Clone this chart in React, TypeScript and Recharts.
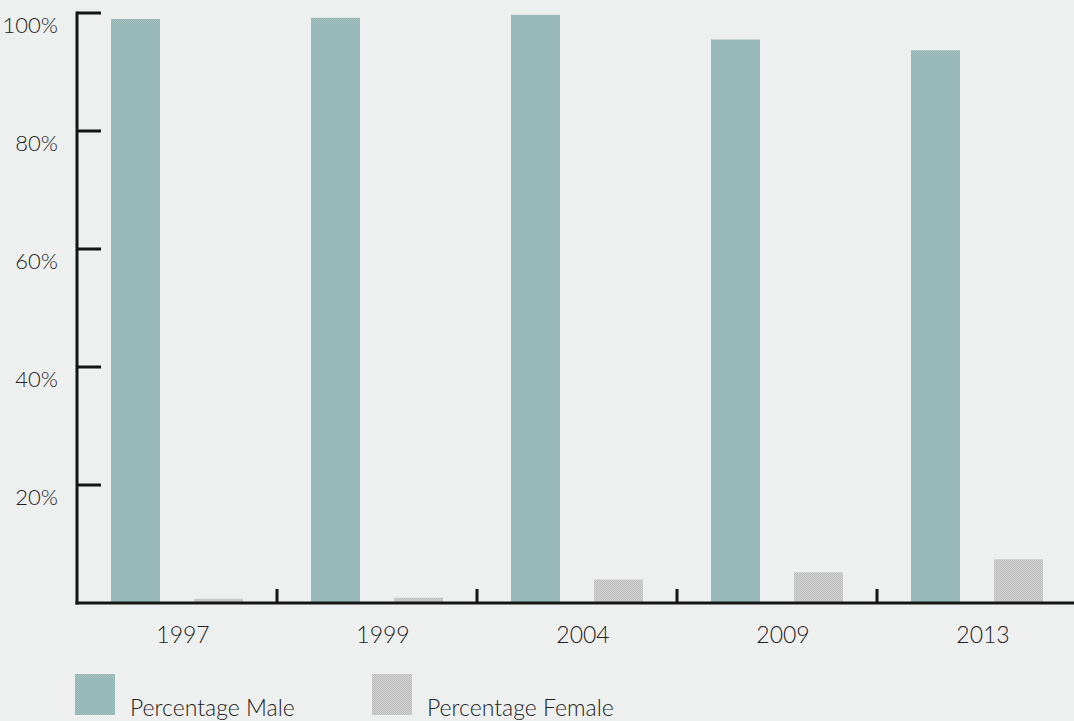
import { BarChart, Bar, XAxis, YAxis, Legend } from 'recharts';

// chart values
const years = ['1997', '1999', '2004', '2009', '2013'];
const maleShare = [99.0, 99.2, 99.7, 95.5, 93.7];
const femaleShare = [0.7, 0.9, 4.0, 5.2, 7.4];
const yTicks = [20, 40, 60, 80, 100];
const seriesNames = ['Percentage Male', 'Percentage Female'];

const data = years.map((year, i) => ({ year, male: maleShare[i], female: femaleShare[i] }));

const AXIS_X = 77;
const BASE_Y = 603;
const INK = '#151515';
const PAPER = '#eef0ef';
const FONT = 'Lato, "Open Sans", sans-serif';

const YTick = (props: any) => {
  const { y, payload } = props;
  return (
    <g>
      <line x1={AXIS_X} x2={AXIS_X + 24} y1={y} y2={y} stroke={INK} strokeWidth={3} />
      <text
        x={58}
        y={y + 11}
        textAnchor="end"
        dominantBaseline="central"
        fill="#222"
        style={{ fontFamily: FONT, fontWeight: 300, fontSize: 22 }}
      >
        {payload.value}%
      </text>
    </g>
  );
};

const XTick = (props: any) => {
  const { x, payload } = props;
  const half = payload.offset || 100;
  return (
    <g>
      <line x1={x + half} x2={x + half} y1={BASE_Y} y2={BASE_Y - 14} stroke={INK} strokeWidth={3} />
      <text
        x={x + 6}
        y={BASE_Y + 31}
        textAnchor="middle"
        dominantBaseline="central"
        fill="#222"
        style={{ fontFamily: FONT, fontWeight: 300, fontSize: 23 }}
      >
        {payload.value}
      </text>
    </g>
  );
};

const LegendBox = (props: any) => {
  // keep the series order (recharts sorts legend items by name otherwise)
  const items = [...(props.payload || [])].sort(
    (a: any, b: any) => seriesNames.indexOf(a.value) - seriesNames.indexOf(b.value)
  );
  return (
    <div style={{ position: 'relative', width: 1074, height: 61 }}>
      {items.map((entry: any, i: number) => (
        <div key={entry.value}>
          <svg
            width={40}
            height={41}
            style={{ position: 'absolute', left: 75 + i * 297, top: 14 }}
          >
            <rect width={40} height={41} fill={entry.color} />
          </svg>
          <span
            style={{
              position: 'absolute',
              left: 130 + i * 297,
              top: 36,
              fontFamily: FONT,
              fontWeight: 300,
              fontSize: 23,
              lineHeight: '23px',
              color: '#222',
              whiteSpace: 'nowrap',
            }}
          >
            {entry.value}
          </span>
        </div>
      ))}
    </div>
  );
};

const App = () => {
  return (
    <div
      style={{
        width: 1074,
        height: 721,
        overflow: 'hidden',
        position: 'relative',
        background: PAPER,
      }}
    >
      <style>{`html, body { margin: 0; padding: 0; background: ${PAPER}; overflow: hidden; }`}</style>
      <BarChart
        width={1080}
        height={721}
        data={data}
        margin={{ top: 13, right: 3, bottom: 88, left: 0 }}
        barCategoryGap={34}
        barGap={34}
      >
        <defs>
          <pattern id="maleDots" width="2" height="2" patternUnits="userSpaceOnUse">
            <rect width="2" height="2" fill="#a5c2c2" />
            <rect width="1" height="1" fill="#91b2b3" />
            <rect x="1" y="1" width="1" height="1" fill="#91b2b3" />
          </pattern>
          <pattern id="femaleDots" width="2" height="2" patternUnits="userSpaceOnUse">
            <rect width="2" height="2" fill="#d2d2d2" />
            <rect width="1" height="1" fill="#bdbdbd" />
            <rect x="1" y="1" width="1" height="1" fill="#bdbdbd" />
          </pattern>
        </defs>
        <XAxis
          dataKey="year"
          height={30}
          tickLine={false}
          tick={<XTick />}
          axisLine={{ stroke: INK, strokeWidth: 3, strokeLinecap: 'square' }}
          interval={0}
        />
        <YAxis
          width={77}
          domain={[0, 100]}
          ticks={yTicks}
          tickLine={false}
          tick={<YTick />}
          axisLine={{ stroke: INK, strokeWidth: 3, strokeLinecap: 'square' }}
          allowDataOverflow
        />
        <Legend
          layout="horizontal"
          verticalAlign="middle"
          align="center"
          wrapperStyle={{ left: 0, top: 660, width: 1074, height: 61 }}
          content={<LegendBox />}
        />
        <Bar dataKey="male" name={seriesNames[0]} fill="url(#maleDots)" isAnimationActive={false} />
        <Bar dataKey="female" name={seriesNames[1]} fill="url(#femaleDots)" isAnimationActive={false} />
      </BarChart>
    </div>
  );
};

export default App;
